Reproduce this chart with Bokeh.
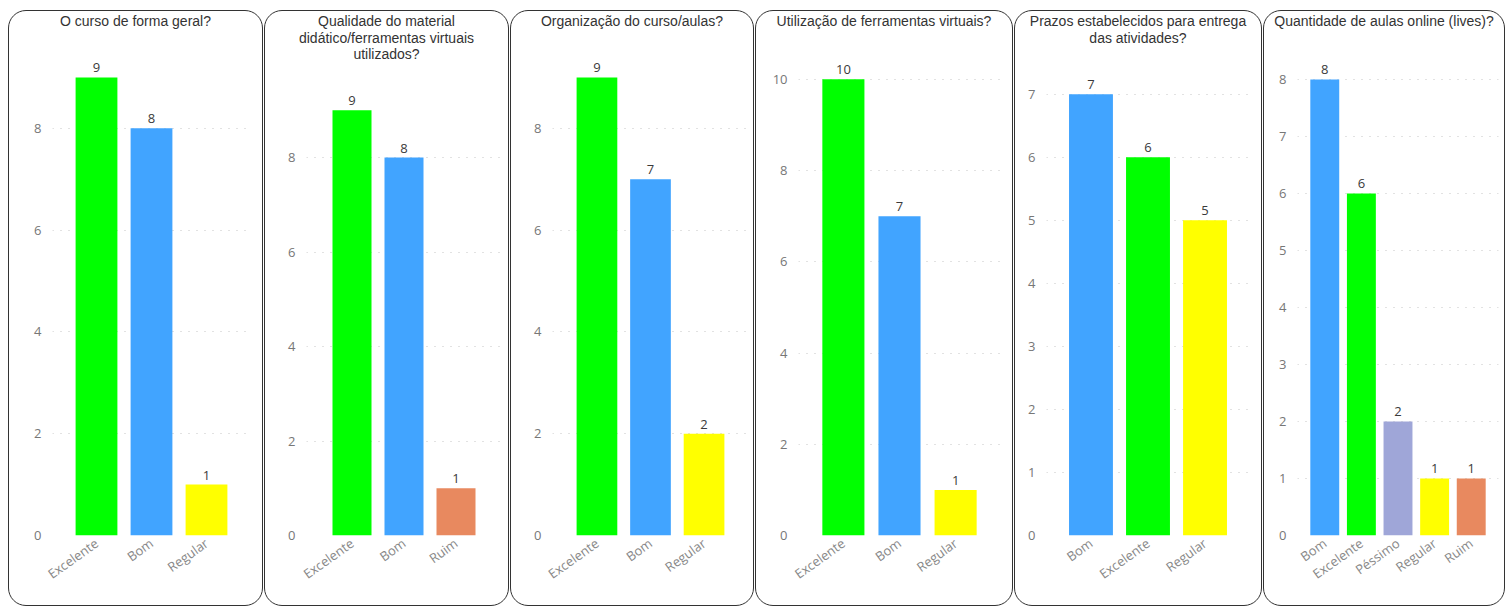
from bokeh.plotting import figure
from bokeh.layouts import row, column
from bokeh.models import FactorRange, Range1d, FixedTicker, Div, ColumnDataSource
from bokeh.embed import file_html
from bokeh.resources import INLINE
from bokeh.core.properties import value

# ---- data ----
title1 = ["O curso de forma geral?"]
cats1 = ["Excelente", "Bom", "Regular"]
vals1 = [9, 8, 1]

title2 = ["Qualidade do material", "didático/ferramentas virtuais", "utilizados?"]
cats2 = ["Excelente", "Bom", "Ruim"]
vals2 = [9, 8, 1]

title3 = ["Organização do curso/aulas?"]
cats3 = ["Excelente", "Bom", "Regular"]
vals3 = [9, 7, 2]

title4 = ["Utilização de ferramentas virtuais?"]
cats4 = ["Excelente", "Bom", "Regular"]
vals4 = [10, 7, 1]

title5 = ["Prazos estabelecidos para entrega", "das atividades?"]
cats5 = ["Bom", "Excelente", "Regular"]
vals5 = [7, 6, 5]

title6 = ["Quantidade de aulas online (lives)?"]
cats6 = ["Bom", "Excelente", "Péssimo", "Regular", "Ruim"]
vals6 = [8, 6, 2, 1, 1]

ticks1 = [0, 2, 4, 6, 8]
ticks2 = [0, 2, 4, 6, 8]
ticks3 = [0, 2, 4, 6, 8]
ticks4 = [0, 2, 4, 6, 8, 10]
ticks5 = [0, 1, 2, 3, 4, 5, 6, 7]
ticks6 = [0, 1, 2, 3, 4, 5, 6, 7, 8]

category_colors = {
    "Excelente": "#00FF00",
    "Bom": "#41A4FF",
    "Regular": "#FFFF00",
    "Ruim": "#E8895F",
    "Péssimo": "#9FA6D8",
}

# ---- layout settings per panel ----
panels = [
    dict(title=title1, cats=cats1, vals=vals1, ticks=ticks1, width=253, ml=43, mr=12, td=30, mt=10, yend=9.51, pad=0.30, bw=0.76),
    dict(title=title2, cats=cats2, vals=vals2, ticks=ticks2, width=243, ml=41, mr=7, td=58, mt=11, yend=9.63, pad=0.375, bw=0.75),
    dict(title=title3, cats=cats3, vals=vals3, ticks=ticks3, width=242, ml=41, mr=5, td=30, mt=10, yend=9.51, pad=0.33, bw=0.76),
    dict(title=title4, cats=cats4, vals=vals4, ticks=ticks4, width=256, ml=42, mr=12, td=30, mt=10, yend=10.61, pad=0.30, bw=0.75),
    dict(title=title5, cats=cats5, vals=vals5, ticks=ticks5, width=246, ml=31, mr=12, td=45, mt=15, yend=7.36, pad=0.28, bw=0.77),
    dict(title=title6, cats=cats6, vals=vals6, ticks=ticks6, width=240, ml=33, mr=6, td=30, mt=10, yend=8.49, pad=0.245, bw=0.79),
]

TOTAL_H = 594
cols = []
for i, cfg in enumerate(panels):
    w = cfg["width"]
    title_html = (
        '<div style="width:%dpx;text-align:center;font-family:\'Liberation Sans\',Arial,sans-serif;'
        'font-size:14px;line-height:16.5px;color:#333333;padding-top:2px;">%s</div>'
        % (w, "<br>".join(cfg["title"]))
    )
    div = Div(text=title_html, width=w, height=cfg["td"], margin=0)

    p = figure(
        width=w, height=TOTAL_H - cfg["td"],
        x_range=FactorRange(*cfg["cats"], range_padding=cfg["pad"], range_padding_units="absolute"),
        y_range=Range1d(0, cfg["yend"]),
        output_backend="svg", toolbar_location=None, tools="",
        min_border_left=cfg["ml"], min_border_right=cfg["mr"],
        min_border_top=cfg["mt"], min_border_bottom=70,
        margin=0,
    )
    p.background_fill_alpha = 0
    p.border_fill_alpha = 0
    p.outline_line_color = None

    src = ColumnDataSource(dict(
        cat=cfg["cats"], val=cfg["vals"],
        lab=[str(v) for v in cfg["vals"]],
        color=[category_colors[c] for c in cfg["cats"]],
    ))
    p.vbar(x="cat", top="val", width=cfg["bw"], color="color", source=src, line_color=None)
    p.text(x="cat", y="val", text="lab", source=src, y_offset=-5,
           text_align="center", text_baseline="bottom",
           text_font=value("Open Sans"), text_font_size="13px", text_color="#3a3a3a")

    p.xgrid.grid_line_color = None
    p.ygrid.grid_line_color = "#c4c4c4"
    p.ygrid.grid_line_dash = "1 7"
    p.ygrid.grid_line_width = 1.2
    p.ygrid.ticker = FixedTicker(ticks=cfg["ticks"])

    p.yaxis.ticker = FixedTicker(ticks=cfg["ticks"])
    p.yaxis.axis_line_color = None
    p.yaxis.major_tick_line_color = None
    p.yaxis.minor_tick_line_color = None
    p.yaxis.major_tick_out = 0
    p.yaxis.major_label_standoff = 11
    p.yaxis.major_label_text_font = "Open Sans"
    p.yaxis.major_label_text_font_size = "13px"
    p.yaxis.major_label_text_color = "#777777"

    p.xaxis.axis_line_color = None
    p.xaxis.major_tick_line_color = None
    p.xaxis.major_tick_out = 0
    p.xaxis.major_label_standoff = 6
    p.xaxis.major_label_orientation = 0.62
    p.xaxis.major_label_text_font = "Open Sans"
    p.xaxis.major_label_text_font_size = "13px"
    p.xaxis.major_label_text_color = "#888888"

    col = column(div, p, spacing=0,
                 margin=(10, 0, 0, 8 if i == 0 else 0),
                 styles={"border": "1.5px solid #333333", "border-radius": "18px"})
    cols.append(col)

layout = row(*cols, spacing=1)
open("out.html", "w").write(file_html(layout, INLINE))
